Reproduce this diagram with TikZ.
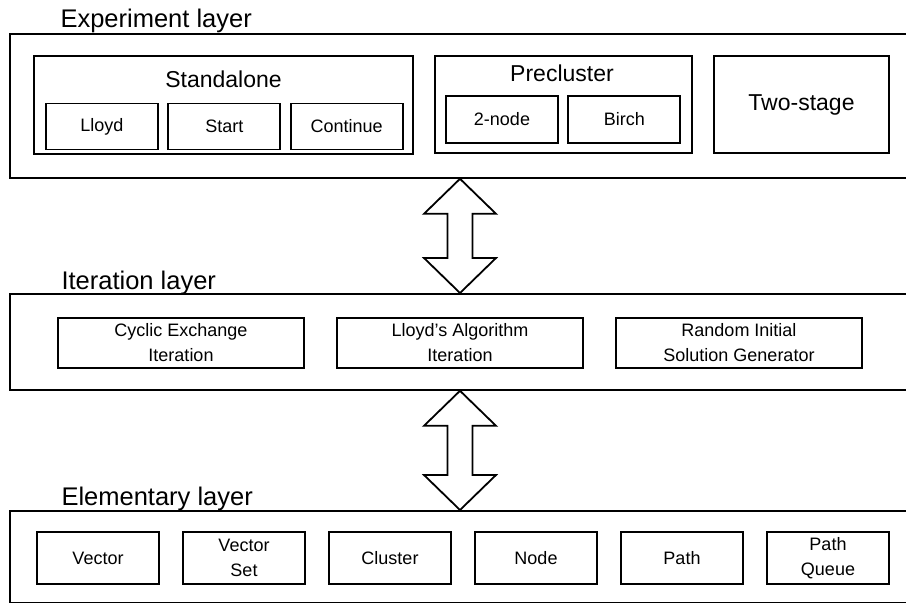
\documentclass[tikz,border=0pt]{standalone}
\usepackage{fontspec}
\setmainfont{Liberation Sans}
\usetikzlibrary{
    calc,
}

\begin{document}
\begin{tikzpicture}[
        x=1pt, y=-1pt,
        layer/.style={rectangle, draw=black, line width=1.8pt, anchor=north west, minimum width=960pt},
        layertitle/.style={anchor=base west, font=\fontsize{25.5}{30}\selectfont},
        group/.style={rectangle, draw=black, line width=1.8pt},
        grouptitle/.style={anchor=base, font=\fontsize{23}{28}\selectfont},
        unit/.style={rectangle, draw=black, line width=1.8pt, align=center, font=\fontsize{18}{25}\selectfont},
        expunit/.style={unit, minimum width=112pt, minimum height=46pt, node distance=122.3pt},
        iterunit/.style={unit, minimum width=246pt, minimum height=50pt, node distance=279pt},
        elemunit/.style={unit, minimum width=122pt, minimum height=52pt, node distance=146pt},
        twoway/.style={draw=black, line width=1.8pt, fill=white},
        ]
        \useasboundingbox (0,0) rectangle (906,603);
        \clip (0,0) rectangle (906,603);
        % layers
        \node[layer, minimum height=144pt] (EXP) at (9,33) {};
        \node[layer, minimum height=96pt] (ITR) at (9,293) {};
        \node[layer, minimum height=92pt] (ELE) at (9,510) {};
        \node[layertitle] (EXPT) at (57,27) {Experiment layer};
        \node[layertitle] (ITRT) at (58,289) {Iteration layer};
        \node[layertitle] (ELET) at (58,505) {Elementary layer};
        % experiment layer
        \node[group, minimum width=379pt, minimum height=98pt] (STAND) at (223.5,105) {};
        \node[grouptitle] (STANDT) at (223.5,87) {Standalone};
        \node[expunit] (LLOYD) at (102,126.5) {Lloyd};
        \node[expunit, right of=LLOYD] (START) {Start};
        \node[expunit, right of=START] (CONT) {Continue};
        \node[group, minimum width=257pt, minimum height=97pt] (PRE) at (563.5,104.5) {};
        \node[grouptitle] (PRET) at (562,81) {Precluster};
        \node[expunit, minimum height=47pt] (TWON) at (502,119.5) {2-node};
        \node[expunit, minimum height=47pt, right of=TWON] (BIRCH) {Birch};
        \node[group, minimum width=175pt, minimum height=97pt, font=\fontsize{23}{28}\selectfont] (TWOS) at (801.5,104.5) {Two-stage};
        % iteration layer
        \node[iterunit] (CYC) at (181,343) {Cyclic Exchange\\Iteration};
        \node[iterunit, right of=CYC] (LLA) {Lloyd's Algorithm\\Iteration};
        \node[iterunit, right of=LLA] (RAND) {Random Initial\\Solution Generator};
        % elementary layer
        \node[elemunit] (VEC) at (98,558) {Vector};
        \node[elemunit, right of=VEC] (VSET) {Vector\\Set};
        \node[elemunit, right of=VSET] (CLU) {Cluster};
        \node[elemunit, right of=CLU] (NODE) {Node};
        \node[elemunit, right of=NODE] (PATH) {Path};
        \node[elemunit, right of=PATH] (PQ) {Path\\Queue};
        % links between layers
        \draw[twoway] (EXP.south -| LLA) -- ++(36,35) -- ++(-23.5,0) -- ($(ITR.north -| LLA)+(12.5,-35)$) -- ++(23.5,0)
            -- (ITR.north -| LLA) -- ++(-36,-35) -- ++(23.5,0) -- ($(EXP.south -| LLA)+(-12.5,35)$) -- ++(-23.5,0) -- cycle;
        \draw[twoway] (ITR.south -| LLA) -- ++(36,35) -- ++(-23.5,0) -- ($(ELE.north -| LLA)+(12.5,-35)$) -- ++(23.5,0)
            -- (ELE.north -| LLA) -- ++(-36,-35) -- ++(23.5,0) -- ($(ITR.south -| LLA)+(-12.5,35)$) -- ++(-23.5,0) -- cycle;
\end{tikzpicture}
\end{document}
